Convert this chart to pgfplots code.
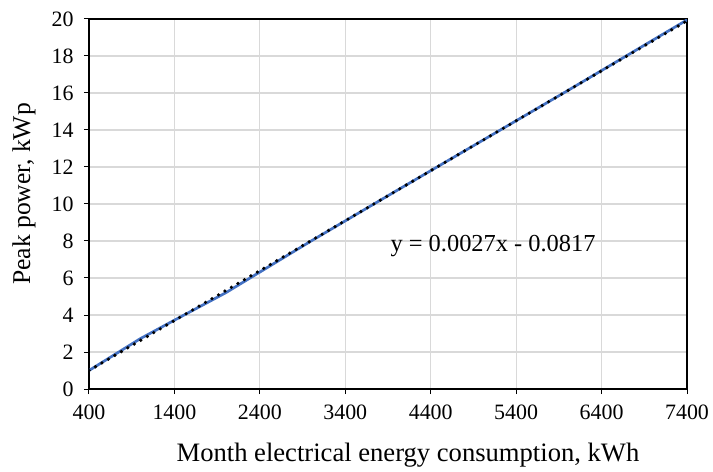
\documentclass[border=0pt]{standalone}
\usepackage{fontspec}
\setmainfont{Liberation Serif}
\usepackage{pgfplots}
\pgfplotsset{compat=1.18}
\definecolor{series}{HTML}{4472C4}
\definecolor{gridc}{HTML}{D9D9D9}

\begin{document}
\begin{tikzpicture}
\begin{axis}[
  scale only axis,
  width=598bp, height=370bp,
  xmin=400, xmax=7400, ymin=0, ymax=20,
  xtick={400,1400,...,7400}, ytick={0,2,...,20},
  /pgf/number format/assume math mode=true,
  /pgf/number format/1000 sep={},
  tick label style={font=\fontsize{22}{26}\selectfont},
  xticklabel style={yshift=-7bp},
  yticklabel style={xshift=-7bp},
  tick pos=left,
  tick align=outside, major tick length=5bp,
  tick style={black, line width=1bp},
  axis line style={black, line width=1.3bp},
  grid=major, grid style={gridc, line width=1.2bp},
  clip mode=individual,
]
\addplot[series, line width=2.7bp, line join=round] coordinates {
  (400,1.0) (1000,2.72) (1400,3.72) (2000,5.2) (3000,8.0)
  (4000,10.72) (5000,13.42) (6000,16.12) (7400,19.95)
};
\addplot[black, line width=3.6bp, line cap=round, dash pattern=on 0pt off 7.5bp] coordinates {
  (400,0.9983) (7400,19.8983)
};
\node[font=\fontsize{24.5}{28}\selectfont] at (axis cs:5130,7.75) {y = 0.0027x - 0.0817};
\node[font=\fontsize{26.7}{30}\selectfont] at ([xshift=20bp,yshift=-66bp]axis description cs:0.5,0) {Month electrical energy consumption, kWh};
\node[font=\fontsize{25.7}{29}\selectfont, rotate=90] at ([xshift=-65bp,yshift=10bp]axis description cs:0,0.5) {Peak power, kWp};
\end{axis}
\pgfresetboundingbox
\path (current axis.south west) ++(-89bp,-83bp) rectangle ([xshift=26bp,yshift=19bp]current axis.north east);
\end{tikzpicture}
\end{document}
